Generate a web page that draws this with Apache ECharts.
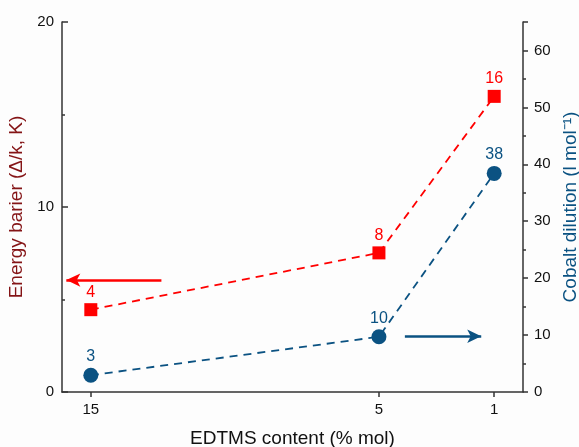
<!DOCTYPE html>
<html>
<head>
<meta charset="utf-8">
<script src="https://cdn.jsdelivr.net/npm/echarts@6/dist/echarts.min.js"></script>
<style>html,body{margin:0;padding:0;background:#fdfdfd;}#c{width:579px;height:447px;}</style>
</head>
<body>
<div id="c"></div>
<script>
// EDTMS content (% mol)
const edtms = [15, 5, 1];
const xTicks = [15, 5, 1];
// Energy barrier (left axis) and labels
const energyBarrier = [4.45, 7.52, 15.98];
const energyLabels = ['4', '8', '16'];
// Cobalt dilution (right axis) and labels
const cobaltDilution = [2.95, 9.7, 38.4];
const cobaltLabels = ['3', '10', '38'];
// annotation arrows [x, y] start/end in data units
const redArrow = [[12.55, 6.05], [15.85, 6.05]];
const blueArrow = [[4.1, 9.8], [1.45, 9.8]];

const RED = '#ff0000';
const BLUE = '#0b5282';
const FONT = 'Liberation Sans, Arial, sans-serif';

const chart = echarts.init(document.getElementById('c'), null, {renderer: 'canvas'});
chart.setOption({
  backgroundColor: '#fdfdfd',
  animation: false,
  grid: {left: 62, right: 56, top: 22, bottom: 55, containLabel: false, outerBoundsMode: 'none'},
  xAxis: {
    type: 'value', min: 0, max: 16, inverse: true,
    name: 'EDTMS content (% mol)', nameLocation: 'middle', nameGap: 37,
    nameTextStyle: {fontSize: 19, color: '#111', fontFamily: FONT},
    axisLine: {onZero: false, lineStyle: {color: '#333', width: 1.5}},
    axisTick: {show: true, customValues: xTicks, length: 5, lineStyle: {color: '#333', width: 1.5}},
    axisLabel: {customValues: xTicks, margin: 10, fontSize: 15, color: '#111', fontFamily: FONT},
    splitLine: {show: false}
  },
  yAxis: [{
    type: 'value', min: 0, max: 20, interval: 10, position: 'left',
    name: 'Energy barier (Δ/k, K)', nameLocation: 'middle', nameGap: 29, nameRotate: 90,
    nameTextStyle: {fontSize: 19, color: '#841416', fontFamily: FONT},
    axisLine: {show: true, onZero: false, lineStyle: {color: '#333', width: 1.5}},
    axisTick: {show: true, inside: true, length: 6, lineStyle: {color: '#333', width: 1.5}},
    minorTick: {show: true, splitNumber: 2, length: 3, lineStyle: {color: '#333', width: 1.5}},
    axisLabel: {margin: 8, fontSize: 15, color: '#111', fontFamily: FONT},
    splitLine: {show: false}
  }, {
    type: 'value', min: 0, max: 65, interval: 10, position: 'right',
    name: 'Cobalt dilution (l mol⁻¹)', nameLocation: 'middle', nameGap: 37, nameRotate: 90,
    nameTextStyle: {fontSize: 19, color: BLUE, fontFamily: FONT},
    axisLine: {show: true, onZero: false, lineStyle: {color: '#333', width: 1.5}},
    axisTick: {show: true, length: 5, lineStyle: {color: '#333', width: 1.5}},
    minorTick: {show: true, splitNumber: 2, length: 3, lineStyle: {color: '#333', width: 1.5}},
    axisLabel: {margin: 11, fontSize: 15, color: '#111', fontFamily: FONT, showMaxLabel: false,
      formatter: v => (v % 10 === 0 ? String(v) : '')},
    splitLine: {show: false}
  }],
  series: [{
    type: 'line', yAxisIndex: 0,
    data: edtms.map((x, i) => [x, energyBarrier[i]]),
    symbol: 'rect', symbolSize: 13,
    itemStyle: {color: RED},
    lineStyle: {color: RED, width: 1.8, type: [8, 6]},
    label: {show: true, position: 'top', distance: 3, fontSize: 16, color: RED, fontFamily: FONT,
      formatter: p => energyLabels[p.dataIndex]},
    markLine: {
      silent: true, symbol: ['none', 'arrow'], symbolSize: [10, 14],
      lineStyle: {color: RED, width: 2.5, type: 'solid'}, label: {show: false},
      data: [[{coord: redArrow[0]}, {coord: redArrow[1]}]]
    }
  }, {
    type: 'line', yAxisIndex: 1,
    data: edtms.map((x, i) => [x, cobaltDilution[i]]),
    symbol: 'circle', symbolSize: 15,
    itemStyle: {color: BLUE},
    lineStyle: {color: BLUE, width: 1.8, type: [8, 6]},
    label: {show: true, position: 'top', distance: 3, fontSize: 16, color: BLUE, fontFamily: FONT,
      formatter: p => cobaltLabels[p.dataIndex]},
    markLine: {
      silent: true, symbol: ['none', 'arrow'], symbolSize: [10, 14],
      lineStyle: {color: BLUE, width: 2.5, type: 'solid'}, label: {show: false},
      data: [[{coord: blueArrow[0]}, {coord: blueArrow[1]}]]
    }
  }]
});
</script>
</body>
</html>
